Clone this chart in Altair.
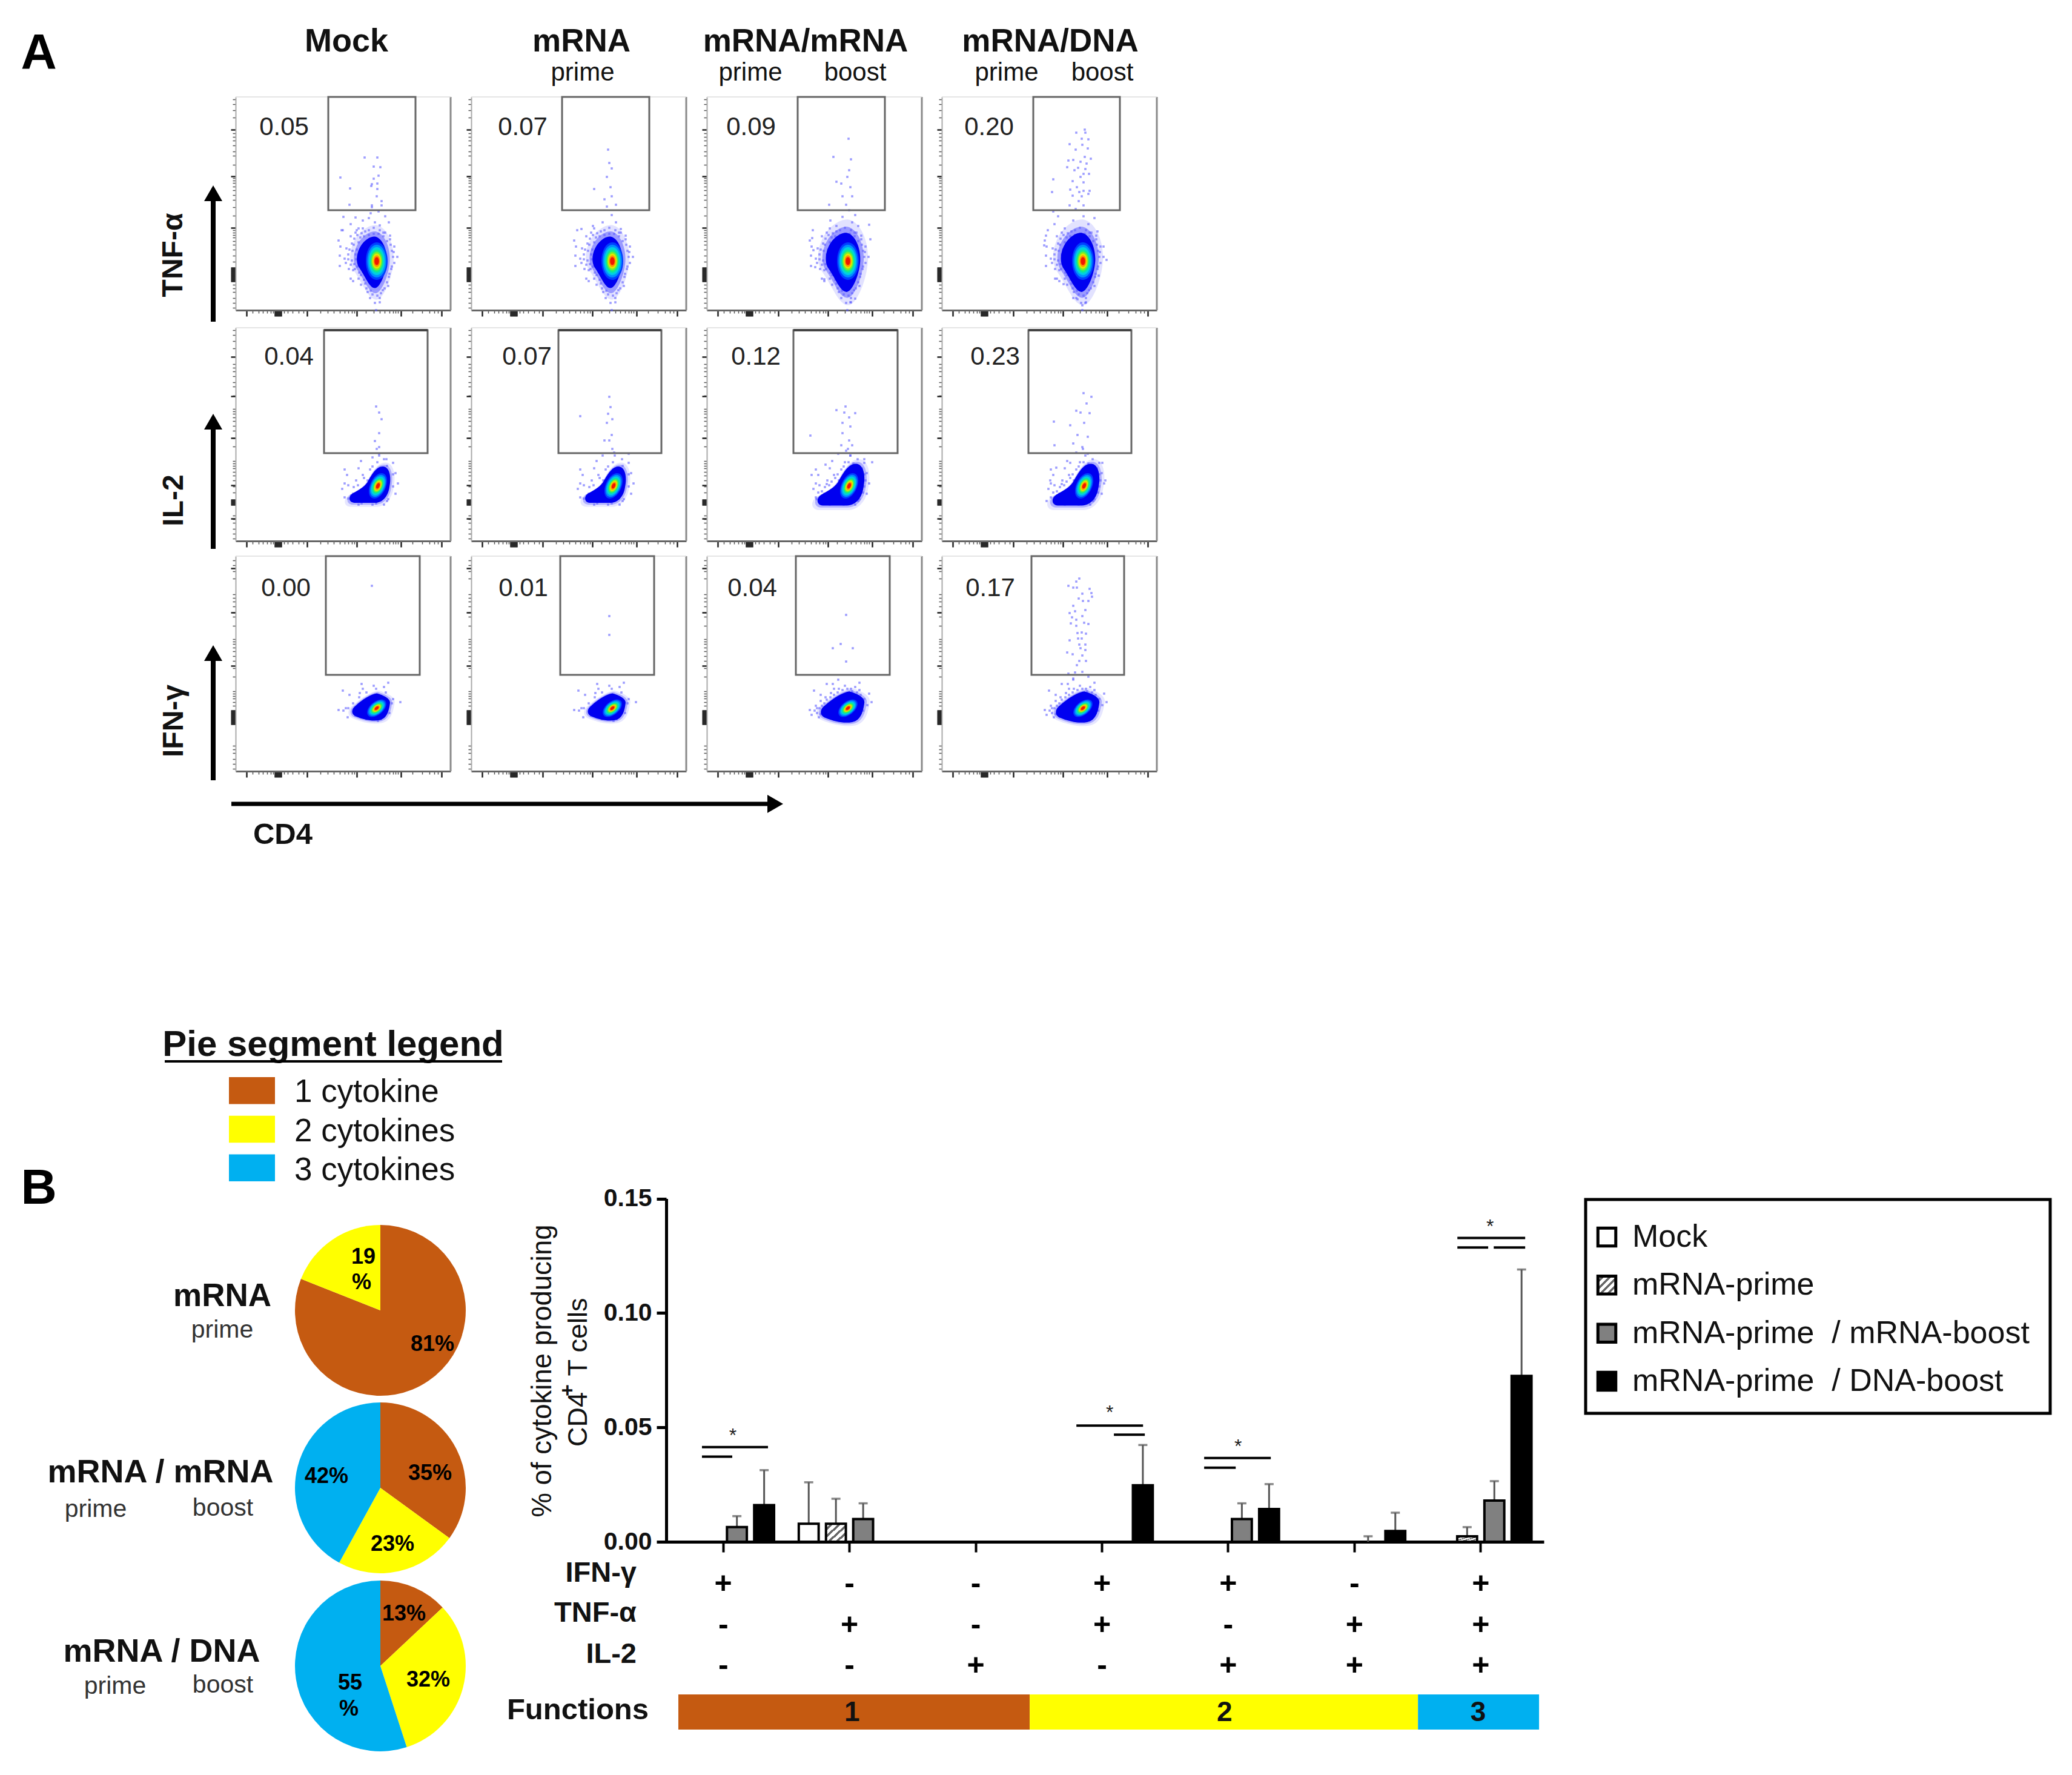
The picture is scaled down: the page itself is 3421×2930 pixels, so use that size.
import altair as alt
import pandas as pd

# ---------------------------------------------------------------- data: panel A
percent_labels = [["0.05", "0.07", "0.09", "0.20"],
                  ["0.04", "0.07", "0.12", "0.23"],
                  ["0.00", "0.01", "0.04", "0.17"]]
gate_x_row1 = [(153, 297), (150, 294), (150, 294), (151, 294)]
gate_x_row2 = [(146, 317), (144, 314), (143, 315), (143, 313)]
gate_x_row3 = [(149, 304), (147, 302), (147, 302), (148, 301)]
gate_y = [(165, 352), (145, 348), (159, 355)]

x_major = [18, 65, 67, 69, 71, 73, 75, 118, 200, 273, 340]
x_minor = [28, 38, 45, 52, 58, 62, 80, 86, 94, 104, 112, 140, 152, 162, 172, 180, 186, 192,
           196, 215, 228, 238, 246, 254, 260, 264, 268, 292, 308, 320, 328, 334]
y_major_row1 = [298, 221, 136, 48, 50, 52, 54, 56, 58, 60, 62, 64, 66, 68, 70]
y_major_row2 = [304, 239, 170, 92, 60, 62, 64, 66, 68, 37]
y_major_row3 = [335, 262, 174, 78, 80, 82, 84, 86, 88, 90, 92, 94, 96, 98, 100]
y_minor = [4, 12, 20, 30, 36, 42, 80, 90, 100, 108, 114, 120, 124, 128, 132, 156, 170, 182,
           190, 198, 204, 210, 214, 218, 240, 255, 262, 272, 280, 286, 292, 318, 330, 340, 348]

halo_row1 = [(170, 115), (175, 132), (173, 105), (172, 90), (172, 73), (180, 85), (183, 102), (187, 68),
             (190, 52), (194, 48), (182, 78), (190, 122), (198, 128), (193, 98), (192, 82), (203, 135),
             (208, 127), (220, 132), (238, 132), (247, 128), (255, 123), (255, 117), (262, 105), (267, 88),
             (262, 78), (257, 68), (253, 55), (252, 40), (243, 33), (238, 20), (238, 13), (230, 12),
             (222, 20), (232, 0), (223, 32), (203, 52), (207, 42), (197, 68), (195, 108), (203, 112)]
rim_row1 = [(186, 92), (188, 100), (186, 84), (190, 75), (192, 110), (196, 118), (198, 92), (200, 100), (199, 84),
            (201, 72), (204, 62), (207, 58), (212, 50), (214, 44), (216, 36), (218, 30), (226, 26), (234, 24),
            (240, 28), (246, 36), (250, 46), (254, 60), (258, 72), (260, 88), (258, 98), (256, 108), (250, 114),
            (244, 122), (236, 126), (228, 126), (220, 124), (212, 122), (206, 120), (214, 130), (228, 136),
            (196, 76), (194, 66), (201, 124), (244, 128), (261, 96)]
halo_row2 = [(180, 118), (180, 95), (180, 72), (203, 120), (210, 109), (195, 89), (226, 123), (260, 129),
             (264, 112), (268, 95), (264, 78), (252, 69), (207, 132), (237, 141), (249, 135), (233, 152),
             (218, 100), (199, 100), (184, 109), (191, 75), (176, 86), (226, 60), (245, 60), (203, 60)]
rim_row2 = [(186, 92), (190, 82), (194, 78), (198, 94), (202, 92), (206, 98), (212, 104), (216, 110), (222, 118),
            (228, 130), (234, 130), (242, 128), (250, 124), (256, 120), (260, 110), (262, 100), (260, 90),
            (258, 80), (250, 66), (240, 64), (232, 62), (218, 62), (208, 62), (198, 64), (186, 70), (184, 80),
            (192, 68), (244, 116)]
halo_row3 = [(170, 101), (173, 93), (177, 133), (180, 108), (188, 126), (198, 144), (208, 144), (217, 151),
             (228, 141), (238, 136), (252, 146), (268, 128), (272, 114), (265, 109), (260, 119), (225, 83),
             (235, 83), (248, 89), (185, 89), (193, 94), (205, 129), (218, 136), (245, 139), (188, 116)]
rim_row3 = [(178, 100), (182, 96), (186, 104), (190, 108), (194, 112), (198, 118), (204, 122), (210, 126),
            (216, 130), (224, 134), (232, 136), (240, 132), (248, 130), (254, 126), (258, 112), (258, 100),
            (254, 96), (248, 92), (240, 86), (228, 84), (216, 86), (206, 90), (198, 92), (188, 94), (182, 104),
            (196, 122), (210, 136), (252, 134)]

pts_r1c1 = [(213, 252), (234, 252), (228, 237), (239, 236), (236, 222), (228, 217), (173, 219), (189, 201),
            (225, 208), (234, 209), (234, 200), (224, 205), (233, 188), (241, 180), (241, 173), (225, 173),
            (188, 174), (225, 170), (236, 163), (223, 160), (220, 152), (230, 145), (210, 148), (198, 153),
            (178, 154), (247, 155), (238, 140), (253, 145), (190, 142), (210, 135), (177, 132), (200, 132)]
pts_r1c2 = [(226, 265), (228, 243), (232, 234), (224, 220), (203, 200), (230, 203), (232, 188), (220, 183),
            (239, 174), (224, 171), (232, 157), (217, 145), (201, 139), (239, 145), (182, 134), (247, 134)]
pts_r1c3 = [(234, 283), (209, 253), (238, 249), (235, 231), (232, 220), (214, 212), (222, 209), (237, 203),
            (224, 188), (240, 188), (202, 174), (230, 174), (235, 165), (245, 157), (224, 154), (204, 148),
            (240, 145), (268, 141), (214, 139), (250, 139), (174, 119), (270, 117), (176, 99), (179, 71),
            (194, 51), (245, 19), (237, 13)]
pts_r1c4 = [(236, 298), (222, 293), (237, 293), (231, 283), (242, 282), (211, 274), (232, 273), (241, 267),
            (221, 265), (236, 253), (246, 250), (217, 248), (209, 247), (229, 245), (239, 242), (207, 236),
            (225, 235), (237, 233), (219, 231), (234, 225), (243, 225), (229, 220), (184, 216), (216, 213),
            (234, 211), (223, 203), (212, 199), (234, 197), (244, 197), (182, 195), (227, 195), (242, 192),
            (216, 189), (231, 188), (226, 180), (211, 173), (234, 173), (221, 167), (184, 163), (234, 155),
            (192, 155), (252, 152), (217, 148), (186, 142), (242, 142), (257, 130), (172, 123), (169, 107),
            (267, 105), (272, 83), (187, 52), (201, 43), (259, 57), (217, 20), (224, 18), (237, 12), (232, 8)]
pts_r2c1 = [(232, 222), (237, 212), (241, 201), (237, 178), (230, 165), (237, 155), (237, 144), (245, 135),
            (226, 138)]
pts_r2c2 = [(228, 238), (230, 221), (226, 210), (233, 201), (180, 206), (224, 195), (232, 175), (228, 166),
            (220, 166), (236, 146), (217, 141), (260, 144)]
pts_r2c3 = [(229, 222), (214, 216), (245, 211), (227, 212), (235, 204), (224, 195), (237, 189), (171, 174),
            (224, 178), (235, 166), (222, 158), (240, 158), (230, 149), (217, 144), (237, 141), (260, 135),
            (273, 130), (196, 126), (173, 109), (181, 69)]
pts_r2c4 = [(234, 244), (247, 238), (239, 227), (222, 215), (229, 212), (244, 211), (185, 197), (212, 191),
            (235, 195), (224, 175), (241, 172), (186, 158), (217, 161), (232, 155), (222, 146), (241, 144),
            (265, 129), (189, 121), (179, 100), (173, 66), (270, 100), (212, 129)]
pts_r3c1 = [(225, 306)]
pts_r3c2 = [(228, 256), (228, 225)]
pts_r3c3 = [(230, 258), (221, 210), (208, 203), (241, 203), (230, 181)]
pts_r3c4 = [(227, 318), (222, 313), (209, 306), (217, 303), (223, 303), (244, 301), (247, 294), (232, 293),
            (226, 285), (248, 288), (233, 281), (242, 281), (217, 273), (220, 264), (237, 266), (211, 261),
            (232, 256), (215, 254), (222, 250), (213, 244), (235, 245), (242, 243), (222, 240), (224, 228),
            (231, 229), (238, 227), (211, 216), (225, 219), (231, 219), (227, 209), (237, 209), (229, 203),
            (237, 200), (207, 196), (216, 193), (232, 191), (227, 182), (238, 182), (223, 175), (220, 163),
            (232, 164), (209, 161), (217, 153), (242, 156)]

core_colors = ["#0040ff", "#0090ff", "#00d0e0", "#10e890", "#70f030", "#e0e800", "#ff9000", "#f01800"]
core_heights = [62, 54, 46, 38, 31, 25, 19, 13]
blob_centres = [(225, 79), (223, 93), (220, 106)]
core_centres = [(233, 81), (235, 91), (233, 104)]

# ---------------------------------------------------------------- data: panel B
pie_groups = ["mRNA", "mRNA / mRNA", "mRNA / DNA"]
pie_categories = ["1 cytokine", "2 cytokines", "3 cytokines"]
pie_colors = ["#C55A11", "#FFFF00", "#00B0F0"]
pie_values = [[81, 19, 0], [35, 23, 42], [13, 32, 55]]

groups = ["g1", "g2", "g3", "g4", "g5", "g6", "g7"]
series = ["Mock", "mRNA-prime", "mRNA-prime\u00a0\u00a0/ mRNA-boost", "mRNA-prime\u00a0\u00a0/ DNA-boost"]
mock_vals = [0, 0.0079, 0, 0, 0, 0, 0]
mock_errs = [0, 0.026, 0, 0, 0, 0, 0]
prime_vals = [0, 0.0079, 0, 0, 0, 0, 0.0024]
prime_errs = [0, 0.0188, 0, 0, 0, 0, 0.0064]
boost_vals = [0.0064, 0.0099, 0, 0, 0.0099, 0, 0.018]
boost_errs = [0.0112, 0.0168, 0, 0, 0.0168, 0.0024, 0.0265]
dna_vals = [0.016, 0, 0, 0.0247, 0.0143, 0.0047, 0.0725]
dna_errs = [0.0313, 0, 0, 0.0423, 0.0252, 0.0127, 0.119]

ifn_row = ["+", "-", "-", "+", "+", "-", "+"]
tnf_row = ["-", "+", "-", "+", "-", "+", "+"]
il2_row = ["-", "-", "+", "-", "+", "+", "+"]
cyt_rows = ["IFN-γ", "TNF-α", "IL-2"]

sig_x1 = [0.331, 0.331, 3.297, 3.594, 4.309, 4.309, 6.315, 6.315, 6.603]
sig_x2 = [0.854, 0.571, 3.825, 3.839, 4.837, 4.559, 6.852, 6.559, 6.852]
sig_y = [0.0414, 0.0372, 0.0508, 0.0468, 0.0366, 0.0324, 0.1328, 0.1286, 0.1286]
star_x = [0.576, 3.561, 4.578, 6.574]
star_y = [0.0476, 0.0577, 0.0428, 0.139]

func_start = [0.144, 2.927, 6.003]
func_end = [2.927, 6.003, 6.962]
func_text = ["1", "2", "3"]
func_mid = [1.52, 4.47, 6.48]

# ---------------------------------------------------------------- layout helpers
W, H = 3405, 2914
FONT = "Liberation Sans"
ONE = alt.Data(values=[{"a": 1}])
layers = []


def fx(v):
    return v - 8


def label(s, x, y, size, bold=False, color="#111111", angle=0, align="center"):
    kw = dict(text=s, fontSize=size, font=FONT, color=color, align=align, baseline="middle")
    if bold:
        kw["fontWeight"] = "bold"
    if angle:
        kw["angle"] = angle
    layers.append(alt.Chart(ONE).mark_text(**kw).encode(x=alt.value(fx(x)), y=alt.value(fx(y))))


def arrow_up(x, y_bottom, y_tip):
    layers.append(alt.Chart(ONE).mark_rule(color="black", strokeWidth=8).encode(
        x=alt.value(fx(x)), y=alt.value(fx(y_tip + 15)), y2=alt.value(fx(y_bottom))))
    layers.append(alt.Chart(ONE).mark_point(shape="triangle-up", filled=True, color="black", size=900, opacity=1).encode(
        x=alt.value(fx(x)), y=alt.value(fx(y_tip + 15))))


# ---------------------------------------------------------------- flow panels
XL = [389, 778, 1167, 1555]
YB = [512, 893, 1273]
PH = [352, 352, 355]
PW = 355
gate_x = [gate_x_row1, gate_x_row2, gate_x_row3]
y_major = [y_major_row1, y_major_row2, y_major_row3]
halos = [halo_row1, halo_row2, halo_row3]
rims = [rim_row1, rim_row2, rim_row3]
panel_pts = [[pts_r1c1, pts_r1c2, pts_r1c3, pts_r1c4],
             [pts_r2c1, pts_r2c2, pts_r2c3, pts_r2c4],
             [pts_r3c1, pts_r3c2, pts_r3c3, pts_r3c4]]
blob_paths = [
    "M0.12,-1 C0.4,-0.95 0.6,-0.5 0.58,-0.05 C0.55,0.45 0.3,1 0.12,1 C-0.1,1 -0.25,0.55 -0.5,0.2 C-0.68,-0.1 -0.55,-0.6 -0.25,-0.85 C-0.1,-0.97 0,-1 0.12,-1 Z",
    "M0.55,-0.82 C0.85,-0.82 0.95,-0.35 0.85,0.1 C0.8,0.5 0.55,0.82 0.2,0.82 L-0.75,0.82 C-1.02,0.8 -1.02,0.5 -0.78,0.38 C-0.5,0.22 -0.3,0.12 -0.15,-0.1 C0.05,-0.45 0.25,-0.82 0.55,-0.82 Z",
    "M0.38,-0.64 C0.7,-0.55 1,-0.4 1,-0.2 C0.95,0.2 0.85,0.55 0.5,0.62 C0.2,0.68 -0.2,0.62 -0.6,0.45 C-0.85,0.35 -0.85,0.1 -0.6,-0.08 C-0.3,-0.35 0.1,-0.6 0.38,-0.64 Z",
]
blob_size = [85, 73, 70]
blob_col_scale = [1, 1, 1.15, 1.15]
soft_scale = [[1.45, 1.2], [1.22, 1.1], [1.22, 1.1]]
soft_opacity = [[0.14, 0.4], [0.12, 0.3], [0.12, 0.3]]
ellipse = "M0,-1 C0.33,-1 0.58,-0.55 0.58,0 C0.58,0.55 0.33,1 0,1 C-0.33,1 -0.58,0.55 -0.58,0 C-0.58,-0.55 -0.33,-1 0,-1 Z"
core_scale = [1, 0.72, 0.6]
core_angle = [0, 25, 50]
label_x = [[469, 863, 1240, 1633], [477, 870, 1248, 1643], [472, 864, 1242, 1635]]
label_y = [210, 589, 971]

for r in range(3):
    for c in range(4):
        xscale = alt.Scale(domain=[0, PW], range=[fx(XL[c]), fx(XL[c]) + PW])
        yscale = alt.Scale(domain=[0, PH[r]], range=[fx(YB[r]), fx(YB[r]) - PH[r]])
        left = -fx(XL[c])
        bottom = -(H - fx(YB[r]))

        # frame: right and top edges
        layers.append(alt.Chart(alt.Data(values=[{"x": PW, "y": 0, "y2": PH[r]}])).mark_rule(
            color="#8a8a8a", strokeWidth=3).encode(
            x=alt.X("x:Q", scale=xscale, axis=None),
            y=alt.Y("y:Q", scale=yscale, axis=None), y2="y2:Q"))
        layers.append(alt.Chart(alt.Data(values=[{"x": 0, "x2": PW, "y": PH[r]}])).mark_rule(
            color="#dddddd", strokeWidth=1.5).encode(
            x=alt.X("x:Q", scale=xscale, axis=None), x2="x2:Q",
            y=alt.Y("y:Q", scale=yscale, axis=None)))

        # density cloud: soft outskirts, then solid body
        k = blob_col_scale[c]
        blob_point = alt.Data(values=[{"x": blob_centres[r][0], "y": blob_centres[r][1]}])
        for sc, op in zip(soft_scale[r], soft_opacity[r]):
            layers.append(alt.Chart(blob_point).mark_point(
                shape=blob_paths[r], filled=True, fill="#3030ff", opacity=op, strokeWidth=0,
                size=(blob_size[r] * k * sc) ** 2).encode(
                x=alt.X("x:Q", scale=xscale, axis=None), y=alt.Y("y:Q", scale=yscale, axis=None)))

        # sparse events and minor ticks
        extra = rims[r] if (r == 0 or c >= 2) else rims[r][::2]
        pts = pd.DataFrame(panel_pts[r][c] + (halos[r] if (r < 2 or c >= 2) else halos[r][::2]) + extra,
                           columns=["x", "y"])
        layers.append(alt.Chart(pts).mark_point(
            filled=True, shape="square", size=13, fill="#5a5aff", opacity=0.6, strokeWidth=0).encode(
            x=alt.X("x:Q", scale=xscale, axis=alt.Axis(
                orient="bottom", offset=bottom, values=x_minor, labels=False, title=None, grid=False,
                domain=False, tickSize=5, tickWidth=1.5, tickColor="#555555")),
            y=alt.Y("y:Q", scale=yscale, axis=alt.Axis(
                orient="left", offset=left, values=y_minor, labels=False, title=None, grid=False,
                domain=False, tickSize=5, tickWidth=1.5, tickColor="#555555"))))

        layers.append(alt.Chart(blob_point).mark_point(
            shape=blob_paths[r], filled=True, fill="#0000f0", opacity=1, strokeWidth=0,
            size=(blob_size[r] * k) ** 2).encode(
            x=alt.X("x:Q", scale=xscale, axis=None), y=alt.Y("y:Q", scale=yscale, axis=None)))
        for colour, h in zip(core_colors, core_heights):
            layers.append(alt.Chart(alt.Data(values=[{"x": core_centres[r][0], "y": core_centres[r][1]}])).mark_point(
                shape=ellipse, filled=True, fill=colour, opacity=1, strokeWidth=0, angle=core_angle[r],
                size=(h * core_scale[r]) ** 2).encode(
                x=alt.X("x:Q", scale=xscale, axis=None), y=alt.Y("y:Q", scale=yscale, axis=None)))

        # gate and major ticks
        g = gate_x[r][c]
        layers.append(alt.Chart(alt.Data(values=[{"x": g[0], "x2": g[1], "y": gate_y[r][0], "y2": gate_y[r][1]}])).mark_rect(
            fill="transparent", stroke="#666666", strokeWidth=3).encode(
            x=alt.X("x:Q", scale=xscale, axis=alt.Axis(
                orient="bottom", offset=bottom, values=x_major, labels=False, title=None, grid=False,
                domain=True, domainColor="#666666", domainWidth=3, tickSize=10, tickWidth=2.5, tickColor="#222222")),
            x2="x2:Q",
            y=alt.Y("y:Q", scale=yscale, axis=alt.Axis(
                orient="left", offset=left, values=y_major[r], labels=False, title=None, grid=False,
                domain=True, domainColor="#aaaaaa", domainWidth=2, tickSize=8, tickWidth=2.5, tickColor="#222222")),
            y2="y2:Q"))
        if r == 1:
            layers.append(alt.Chart(alt.Data(values=[{"x": g[0], "x2": g[1], "y": gate_y[r][1]}])).mark_rule(
                color="#444444", strokeWidth=4).encode(
                x=alt.X("x:Q", scale=xscale, axis=None), x2="x2:Q",
                y=alt.Y("y:Q", scale=yscale, axis=None)))

        label(percent_labels[r][c], label_x[r][c], label_y[r], 42, color="#222222")

# panel A annotations
label("A", 64, 88, 82, bold=True, color="black")
label("Mock", 572, 69, 54, bold=True)
label("mRNA", 960, 69, 53, bold=True)
label("prime", 962, 120, 42)
label("mRNA/mRNA", 1330, 69, 53, bold=True)
label("prime", 1239, 120, 42)
label("boost", 1412, 120, 42)
label("mRNA/DNA", 1734, 69, 53, bold=True)
label("prime", 1662, 120, 42)
label("boost", 1820, 120, 42)
label("TNF-α", 287, 421, 48, bold=True, angle=270)
label("IL-2", 288, 826, 48, bold=True, angle=270)
label("IFN-γ", 288, 1190, 48, bold=True, angle=270)
label("CD4", 467, 1378, 49, bold=True)
arrow_up(352, 531, 304)
arrow_up(352, 906, 681)
arrow_up(352, 1288, 1063)
layers.append(alt.Chart(ONE).mark_rule(color="black", strokeWidth=7).encode(
    x=alt.value(fx(382)), x2=alt.value(fx(1280)), y=alt.value(fx(1327))))
layers.append(alt.Chart(ONE).mark_point(shape="triangle-right", filled=True, color="black", size=900, opacity=1).encode(
    x=alt.value(fx(1280)), y=alt.value(fx(1327))))

# ---------------------------------------------------------------- pies
label("B", 64, 1962, 82, bold=True, color="black")
label("Pie segment legend", 550, 1725, 60, bold=True)
layers.append(alt.Chart(ONE).mark_rule(color="black", strokeWidth=4).encode(
    x=alt.value(fx(272)), x2=alt.value(fx(829)), y=alt.value(fx(1752))))
leg_df = pd.DataFrame({"cat": pie_categories})
leg_y = alt.Scale(type="band", domain=pie_categories, range=[fx(1778), fx(1950)], paddingInner=0.3, paddingOuter=0)
leg_text_y = alt.Scale(type="point", domain=pie_categories, range=[fx(1803), fx(1932)], padding=0)
pie_fill = alt.Scale(domain=pie_categories, range=pie_colors)
layers.append(alt.Chart(leg_df).mark_rect().encode(
    x=alt.value(fx(378)), x2=alt.value(fx(454)),
    y=alt.Y("cat:N", scale=leg_y, axis=None),
    fill=alt.Fill("cat:N", scale=pie_fill, legend=None)))
layers.append(alt.Chart(leg_df).mark_text(align="left", baseline="middle", fontSize=53, font=FONT, color="#111111").encode(
    x=alt.value(fx(486)),
    y=alt.Y("cat:N", scale=leg_text_y, axis=None),
    text="cat:N"))

pie_cy = [2163, 2456, 2750]
for name, vals, cy in zip(pie_groups, pie_values, pie_cy):
    df = pd.DataFrame({"cat": pie_categories, "v": vals, "i": [0, 1, 2]})
    layers.append(alt.Chart(df).mark_arc(outerRadius=141).encode(
        x=alt.value(fx(628)), y=alt.value(fx(cy)),
        theta=alt.Theta("v:Q", stack=True, scale=alt.Scale(domain=[0, 100], range=[0, 6.28318])),
        order=alt.Order("i:Q"),
        fill=alt.Fill("cat:N", scale=pie_fill, legend=None)))

for s, x, y in [("19", 600, 2075), ("%", 597, 2117), ("81%", 714, 2219), ("35%", 710, 2432), ("23%", 648, 2549),
                ("42%", 539, 2437), ("13%", 667, 2664), ("32%", 707, 2773), ("55", 578, 2778), ("%", 576, 2821)]:
    label(s, x, y, 36, bold=True, color="black")

label("mRNA", 367, 2140, 53, bold=True)
label("prime", 367, 2196, 41, color="#333333")
label("mRNA / mRNA", 265, 2431, 54, bold=True)
label("prime", 158, 2492, 41, color="#333333")
label("boost", 368, 2490, 41, color="#333333")
label("mRNA / DNA", 267, 2727, 54, bold=True)
label("prime", 190, 2784, 41, color="#333333")
label("boost", 368, 2782, 41, color="#333333")

# ---------------------------------------------------------------- bar chart
BAR_X0, BAR_X1 = fx(1090), fx(2549)
STEP = (BAR_X1 - BAR_X0) / 7
bar_x = alt.Scale(type="band", domain=groups, range=[BAR_X0, BAR_X1], paddingInner=0, paddingOuter=0)
bar_off = alt.Scale(type="band", domain=series, range=[0, STEP], paddingInner=0.27, paddingOuter=0.454)
bar_y = alt.Scale(domain=[0, 0.15], range=[fx(2545), fx(1978.5)])
pos_x = alt.Scale(domain=[0, 7], range=[BAR_X0, BAR_X1])

stops = []
for i in range(5):
    stops += [alt.GradientStop(color="white", offset=i / 5),
              alt.GradientStop(color="white", offset=(i + 0.6) / 5),
              alt.GradientStop(color="#666666", offset=(i + 0.6) / 5),
              alt.GradientStop(color="#666666", offset=(i + 1) / 5)]
hatch = alt.LinearGradient(gradient="linear", stops=stops, x1=0, y1=0, x2=1, y2=1)
fills = ["white", hatch, "#808080", "black"]
all_vals = [mock_vals, prime_vals, boost_vals, dna_vals]
all_errs = [mock_errs, prime_errs, boost_errs, dna_errs]

x_axis = alt.Axis(orient="bottom", offset=-(H - fx(2545)), labels=False, title=None, grid=False,
                  domain=True, domainColor="black", domainWidth=5, ticks=True, tickColor="black",
                  tickSize=17, tickWidth=4)
y_axis = alt.Axis(orient="left", offset=-fx(1100), values=[0, 0.05, 0.10, 0.15], format=".2f", title=None,
                  grid=False, domain=True, domainColor="black", domainWidth=5, tickColor="black", tickSize=16,
                  tickWidth=5, labelFont=FONT, labelFontSize=41, labelFontWeight="bold", labelColor="#111111",
                  labelPadding=8, labelOverlap=False, labelFlush=False)

for i, (name, vals, errs, fill) in enumerate(zip(series, all_vals, all_errs, fills)):
    df = pd.DataFrame({"g": groups, "s": name, "v": vals, "e": errs})
    err_df = df[df.e > 0]
    layers.append(alt.Chart(err_df).mark_rule(color="#555555", strokeWidth=3).encode(
        x=alt.X("g:N", scale=bar_x, axis=None),
        xOffset=alt.XOffset("s:N", scale=bar_off),
        y=alt.Y("v:Q", scale=bar_y, axis=None), y2="e:Q"))
    layers.append(alt.Chart(err_df).mark_tick(color="#555555", thickness=3.5, size=15, orient="horizontal").encode(
        x=alt.X("g:N", scale=bar_x, axis=None),
        xOffset=alt.XOffset("s:N", scale=bar_off),
        y=alt.Y("e:Q", scale=bar_y, axis=None)))
    layers.append(alt.Chart(df[df.v > 0]).mark_bar(fill=fill, stroke="black", strokeWidth=4).encode(
        x=alt.X("g:N", scale=bar_x, axis=x_axis if i == 0 else None),
        xOffset=alt.XOffset("s:N", scale=bar_off),
        y=alt.Y("v:Q", scale=bar_y, axis=y_axis if i == 0 else None)))

# significance bars
sig_df = pd.DataFrame({"x": sig_x1, "x2": sig_x2, "y": sig_y})
layers.append(alt.Chart(sig_df).mark_rule(color="black", strokeWidth=4).encode(
    x=alt.X("x:Q", scale=pos_x, axis=None), x2="x2:Q",
    y=alt.Y("y:Q", scale=bar_y, axis=None)))
star_df = pd.DataFrame({"x": star_x, "y": star_y})
layers.append(alt.Chart(star_df).mark_text(text="*", fontSize=32, font=FONT, color="#222222", baseline="middle", dy=5).encode(
    x=alt.X("x:Q", scale=pos_x, axis=None),
    y=alt.Y("y:Q", scale=bar_y, axis=None)))

# y axis title
label("% of cytokine producing", 896, 2263, 45.5, angle=270)
label("CD4", 955, 2343, 45, angle=270)
label("+", 938, 2295, 34, bold=True, angle=270)
label("T cells", 955, 2207, 45, angle=270)

# +/- table
tab = pd.DataFrame({
    "g": groups * 3,
    "row": sum([[n] * 7 for n in cyt_rows], []),
    "sym": ifn_row + tnf_row + il2_row,
})
tab_y = alt.Scale(type="point", domain=cyt_rows, range=[fx(2615), fx(2750)], padding=0)
layers.append(alt.Chart(tab).mark_text(fontSize=50, fontWeight="bold", font=FONT, color="black", baseline="middle").encode(
    x=alt.X("g:N", scale=bar_x, axis=None),
    y=alt.Y("row:N", scale=tab_y, axis=None),
    text="sym:N"))
for name, y in zip(cyt_rows, [2597, 2663, 2731]):
    label(name, 1051, y, 47, bold=True, align="right")

# functions strip
func_df = pd.DataFrame({"x": func_start, "x2": func_end, "f": func_text, "m": func_mid})
func_fill = alt.Scale(domain=func_text, range=pie_colors)
layers.append(alt.Chart(func_df).mark_rect().encode(
    x=alt.X("x:Q", scale=pos_x, axis=None), x2="x2:Q",
    y=alt.value(fx(2797)), y2=alt.value(fx(2855)),
    fill=alt.Fill("f:N", scale=func_fill, legend=None)))
layers.append(alt.Chart(func_df).mark_text(fontSize=46, fontWeight="bold", font=FONT, color="#111111", baseline="middle").encode(
    x=alt.X("m:Q", scale=pos_x, axis=None),
    y=alt.value(fx(2827)),
    text="f:N"))
label("Functions", 1071, 2823, 49, bold=True, align="right")

# ---------------------------------------------------------------- bar legend
layers.append(alt.Chart(ONE).mark_rect(fill="white", stroke="black", strokeWidth=5).encode(
    x=alt.value(fx(2618)), x2=alt.value(fx(3385)), y=alt.value(fx(1980)), y2=alt.value(fx(2333))))
leg2_y = alt.Scale(type="point", domain=series, range=[fx(2042), fx(2280)], padding=0)
for name, fill in zip(series, fills):
    layers.append(alt.Chart(pd.DataFrame({"s": [name]})).mark_point(
        shape="square", filled=True, fill=fill, stroke="black", strokeWidth=5, opacity=1, size=870).encode(
        x=alt.value(fx(2653)),
        y=alt.Y("s:N", scale=leg2_y, axis=None)))
layers.append(alt.Chart(pd.DataFrame({"s": series})).mark_text(
    align="left", baseline="middle", fontSize=52, font=FONT, color="#111111").encode(
    x=alt.value(fx(2695)),
    y=alt.Y("s:N", scale=leg2_y, axis=None),
    text="s:N"))

chart = alt.layer(*layers).resolve_scale(
    x="independent", y="independent", fill="independent", theta="independent", xOffset="independent"
).properties(
    width=W, height=H, padding=0,
    autosize=alt.AutoSizeParams(type="none", contains="padding"),
    background="white",
).configure_view(stroke=None)

chart.save("out.html", embed_options={"renderer": "svg", "actions": False})
